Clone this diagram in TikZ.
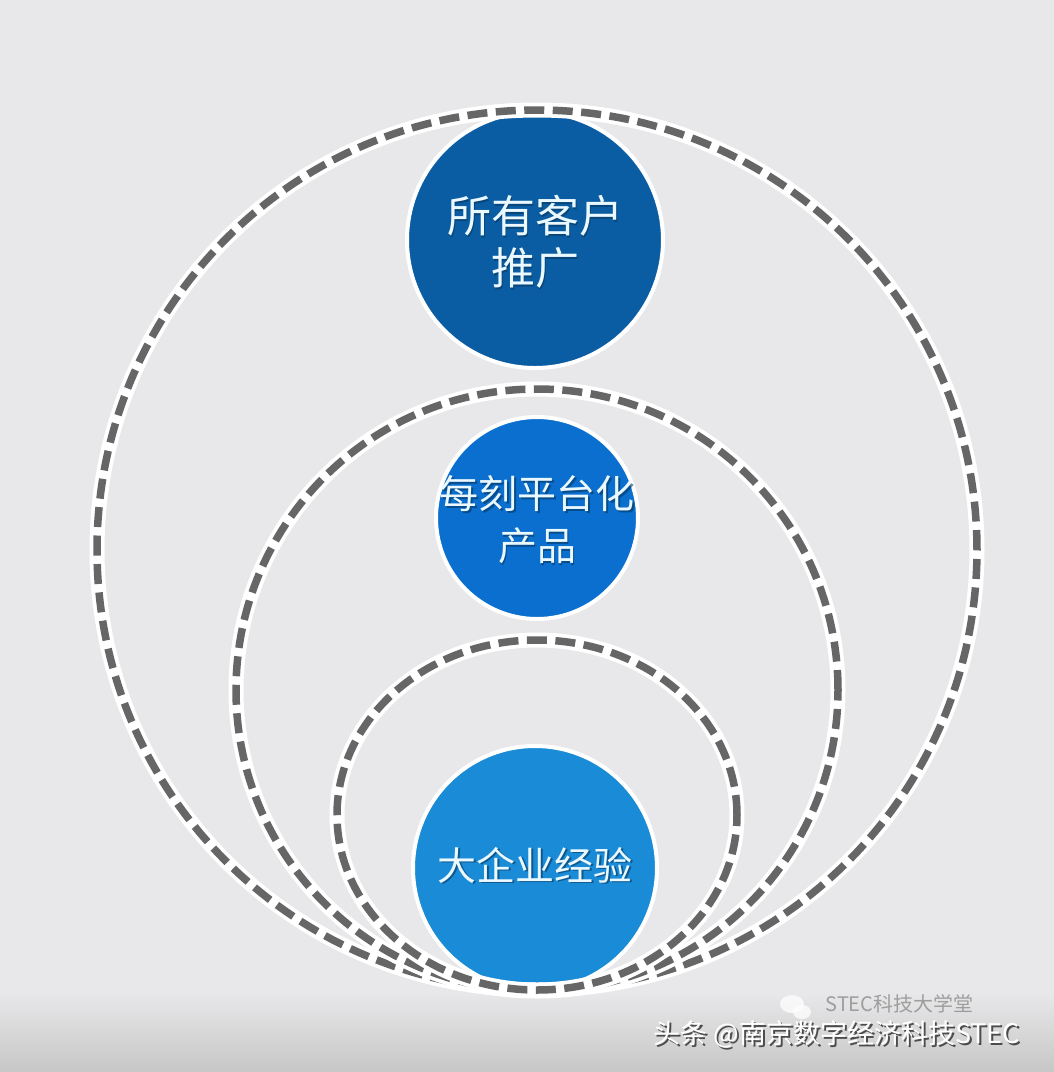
\documentclass[tikz,border=0pt]{standalone}
\usepackage{fontspec}
\newfontfamily\cjk{Noto Sans CJK SC}
\definecolor{bgc}{HTML}{E8E8EA}
\definecolor{dashgrey}{HTML}{666666}
\definecolor{blueA}{HTML}{0B5DA3}
\definecolor{blueB}{HTML}{0A6FCF}
\definecolor{blueC}{HTML}{1A8BD6}
\definecolor{txtc}{HTML}{EAF8FF}
\definecolor{shadowc}{HTML}{06375F}
\begin{document}
\begin{tikzpicture}[x=1pt,y=-1pt,
  halo/.style={draw=white,line width=15pt},
  dashring/.style={draw=dashgrey,line width=7.5pt,dash pattern=on 20pt off 8.5pt},
  bubble/.style={circle,inner sep=0pt,draw=white,line width=4pt},
  label/.style={text=txtc,align=center,font=\cjk},
  labelshadow/.style={text=shadowc,opacity=0.6,align=center,font=\cjk}]
% background
\fill[bgc] (0,0) rectangle (1054,1072);
\useasboundingbox (0,0) rectangle (1054,1072);
\shade[top color=bgc,bottom color=black!22] (0,992) rectangle (1054,1072);

% filled circles
\node[bubble,fill=blueA,minimum size=256pt] (c1) at (535,240) {};
\node[bubble,fill=blueB,minimum size=202pt] (c2) at (537,518) {};
\node[bubble,fill=blueC,minimum size=244pt] (c3) at (535,868) {};

% dashed rings
\coordinate (bigc) at (537,550);
\coordinate (midc) at (537,690);
\coordinate (smlc) at (537,815);
\draw[halo] (bigc) circle[radius=440pt];
\draw[dashring] (bigc) circle[radius=440pt];
\draw[halo] (midc) circle[radius=301pt];
\draw[dashring] (midc) circle[radius=301pt];
\draw[halo] (smlc) ellipse[x radius=200pt,y radius=175pt];
\draw[dashring] (smlc) ellipse[x radius=200pt,y radius=175pt];

% labels
\node[labelshadow,font=\cjk\fontsize{44}{52}\selectfont] (t1s) at (536.5,243.5) {所有客户\\推广};
\node[label,font=\cjk\fontsize{44}{52}\selectfont] (t1) at (535,242) {所有客户\\推广};
\node[labelshadow,font=\cjk\fontsize{39}{52}\selectfont] (t2s) at (538.5,521.5) {每刻平台化\\产品};
\node[label,font=\cjk\fontsize{39}{52}\selectfont] (t2) at (537,520) {每刻平台化\\产品};
\node[labelshadow,font=\cjk\fontsize{39}{47}\selectfont] (t3s) at (536.5,866.5) {大企业经验};
\node[label,font=\cjk\fontsize{39}{47}\selectfont] (t3) at (535,865) {大企业经验};

% watermarks
\fill[white,opacity=0.75] (792,1004) ellipse[x radius=12pt,y radius=9pt];
\fill[white,opacity=0.75] (802,1012) ellipse[x radius=9pt,y radius=7pt];
\node[text=black!45,opacity=0.8,font=\cjk\fontsize{20}{24}\selectfont,anchor=west] (wm2) at (822,1004) {STEC科技大学堂};
\node[text=black!70,font=\cjk\fontsize{27}{32}\selectfont,anchor=west] (wm1s) at (652,1036) {头条 @南京数字经济科技STEC};
\node[text=white,font=\cjk\fontsize{27}{32}\selectfont,anchor=west] (wm1) at (650,1034) {头条 @南京数字经济科技STEC};
\end{tikzpicture}
\end{document}
